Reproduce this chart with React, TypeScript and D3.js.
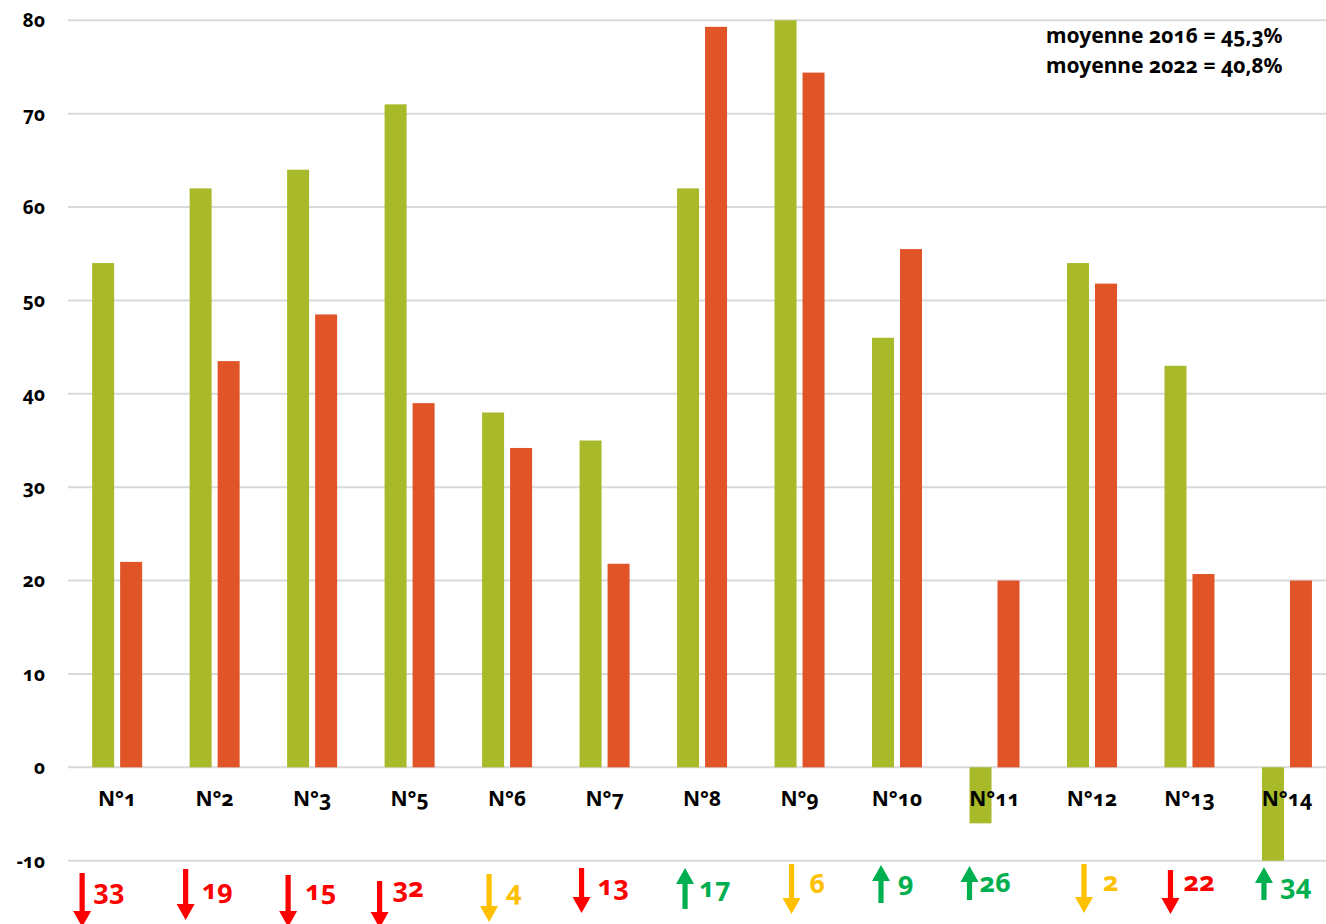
import React from "react";
import * as d3 from "d3";

const categories = ["N°1", "N°2", "N°3", "N°5", "N°6", "N°7", "N°8", "N°9", "N°10", "N°11", "N°12", "N°13", "N°14"];
const values2016 = [54, 62, 64, 71, 38, 35, 62, 80, 46, -6, 54, 43, -14];
const values2022 = [22, 43.5, 48.5, 39, 34.2, 21.8, 79.3, 74.4, 55.5, 20, 51.8, 20.7, 20];
const changeLabels = [33, 19, 15, 32, 4, 13, 17, 6, 9, 26, 2, 22, 34];
const changeKinds = ["down", "down", "down", "down", "small", "down", "up", "small", "up", "up", "small", "down", "up"];
const yTicks = [-10, 0, 10, 20, 30, 40, 50, 60, 70, 80];
const averageLines = ["moyenne 2016 = 45,3%", "moyenne 2022 = 40,8%"];

// layout of the hand-placed annotations (offsets from category centre)
const arrowDx = [-35, -29, -24, -30, -18, -23, -17, -8, -16, -25, -8, -19, -23];
const arrowTop = [873, 869, 875, 881, 874, 868, 868, 864, 865, 866, 864, 870, 867];
const arrowBottom = [927, 920, 927, 928, 922, 913, 909, 914, 903, 900, 913, 914, 900];
const textDx = [-24, -13, -7, -17, -1, -7, -3, 10, 1, -15, 11, -6, -7];
const textBase = [899, 899, 900, 897, 900, 895, 897, 893, 891, 892, 891, 891, 894];

const W = 1326, H = 924;
const FONT = "'Noto Sans', 'Open Sans', sans-serif";
const GREEN = "#A8B92A";
const RED = "#E05428";
const kindColor: Record<string, string> = { down: "#FF0000", small: "#FFC000", up: "#00B050" };

function Arrow({ x, top, bottom, dir, color }: { x: number; top: number; bottom: number; dir: string; color: string }) {
  const hw = 9, sw = 2.6, hl = 16;
  let d: string;
  if (dir === "up") {
    d = `M${x},${top} L${x + hw},${top + hl} L${x + sw},${top + hl} L${x + sw},${bottom} L${x - sw},${bottom} L${x - sw},${top + hl} L${x - hw},${top + hl} Z`;
  } else {
    d = `M${x},${bottom} L${x + hw},${bottom - hl} L${x + sw},${bottom - hl} L${x + sw},${top} L${x - sw},${top} L${x - sw},${bottom - hl} L${x - hw},${bottom - hl} Z`;
  }
  return <path d={d} fill={color} />;
}

export default function App() {
  const x = d3.scaleBand<string>().domain(categories).range([68.4, 1335.7]).padding(0);
  const sub = d3.scaleBand<string>().domain(["2016", "2022"]).range([-25, 25]).paddingInner(6 / 28).paddingOuter(0);
  const y = d3.scaleLinear().domain([-10, 80]).range([860.7, 20.3]).clamp(true);
  const cx = (c: string) => (x(c) as number) + x.bandwidth() / 2;

  const bars = categories.flatMap((c, i) => [
    { c, key: "2016", v: values2016[i], color: GREEN },
    { c, key: "2022", v: values2022[i], color: RED },
  ]);

  return (
    <svg width={W} height={H} style={{ position: "absolute", left: 0, top: 0, background: "#fff" }} fontFamily={FONT}>
      <rect width={W} height={H} fill="#fff" />
      {yTicks.map((t) => (
        <g key={t}>
          <line x1={68} x2={W} y1={y(t)} y2={y(t)} stroke="#D9D9D9" strokeWidth={2} />
          <text x={45} y={y(t)} dy="0.36em" textAnchor="end" fontSize={19} fontWeight={700} fill="#000" style={{ fontVariantNumeric: "oldstyle-nums" }}>
            {t}
          </text>
        </g>
      ))}
      {bars.map((b) => {
        const y0 = y(0), y1 = y(b.v);
        return (
          <rect
            key={b.c + b.key}
            x={cx(b.c) + (sub(b.key) as number)}
            width={sub.bandwidth()}
            y={Math.min(y0, y1)}
            height={Math.abs(y1 - y0)}
            fill={b.color}
          />
        );
      })}
      {categories.map((c) => (
        <text key={c} x={cx(c)} y={806} textAnchor="middle" fontSize={21} fontWeight={700} fill="#000" style={{ fontVariantNumeric: "oldstyle-nums" }}>
          {c}
        </text>
      ))}
      {categories.map((c, i) => {
        const kind = changeKinds[i];
        const color = kindColor[kind];
        const ax = cx(c) + arrowDx[i];
        return (
          <g key={"a" + c}>
            <Arrow x={ax} top={arrowTop[i]} bottom={arrowBottom[i]} dir={kind === "up" ? "up" : "down"} color={color} />
            <text x={cx(c) + textDx[i]} y={textBase[i]} fontSize={27} fontWeight={700} fill={color} style={{ fontVariantNumeric: "oldstyle-nums" }}>
              {changeLabels[i]}
            </text>
          </g>
        );
      })}
      {averageLines.map((t, i) => (
        <text key={t} x={1046} y={43 + i * 30} fontSize={21} fontWeight={700} fill="#000" style={{ fontVariantNumeric: "oldstyle-nums" }}>
          {t}
        </text>
      ))}
    </svg>
  );
}
